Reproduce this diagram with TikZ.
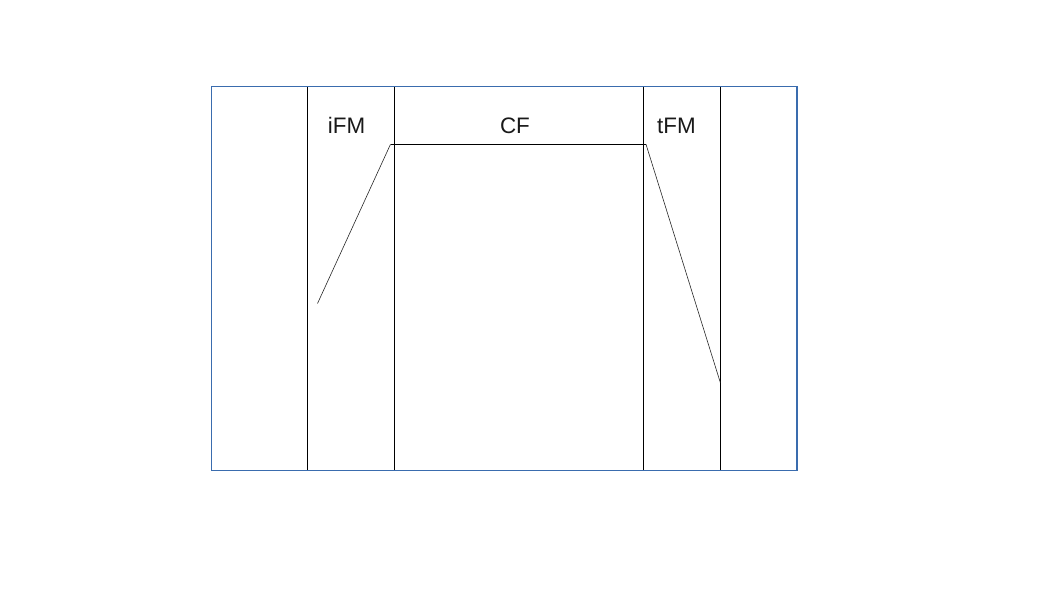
\documentclass[tikz,border=0pt]{standalone}
\usepackage{fontspec}
\setmainfont{Liberation Sans}
\definecolor{frameblue}{RGB}{58,108,174}
\begin{document}
\begin{tikzpicture}[x=0.75pt,y=-0.75pt,
  frame/.style={draw=frameblue,line width=0.8pt},
  divider/.style={draw=black,line width=0.8pt},
  curve/.style={draw=black!85,line width=0.45pt},
  lbl/.style={font=\fontsize{16.8}{18}\selectfont,text=black!90,inner sep=0pt,anchor=base}]
\useasboundingbox (0,0) rectangle (1058,595);
\foreach \x in {307.3,394.3,643.3,720.3}{
  \draw[divider] (\x,86.3) -- (\x,470.3);
}
\draw[frame] (211.5,86.3) rectangle (797,470.3);
\coordinate (a) at (317.5,303.5);
\coordinate (b) at (390.5,144.3);
\coordinate (c) at (646,144.3);
\coordinate (d) at (720.3,382.5);
\draw[curve] (a) -- (b);
\draw[divider] (b) -- (c);
\draw[curve] (c) -- (d);
\node[lbl] (ifm) at (346.5,134) {iFM};
\node[lbl] (cf) at (515,134) {CF};
\node[lbl] (tfm) at (676.5,134) {tFM};
\end{tikzpicture}
\end{document}
